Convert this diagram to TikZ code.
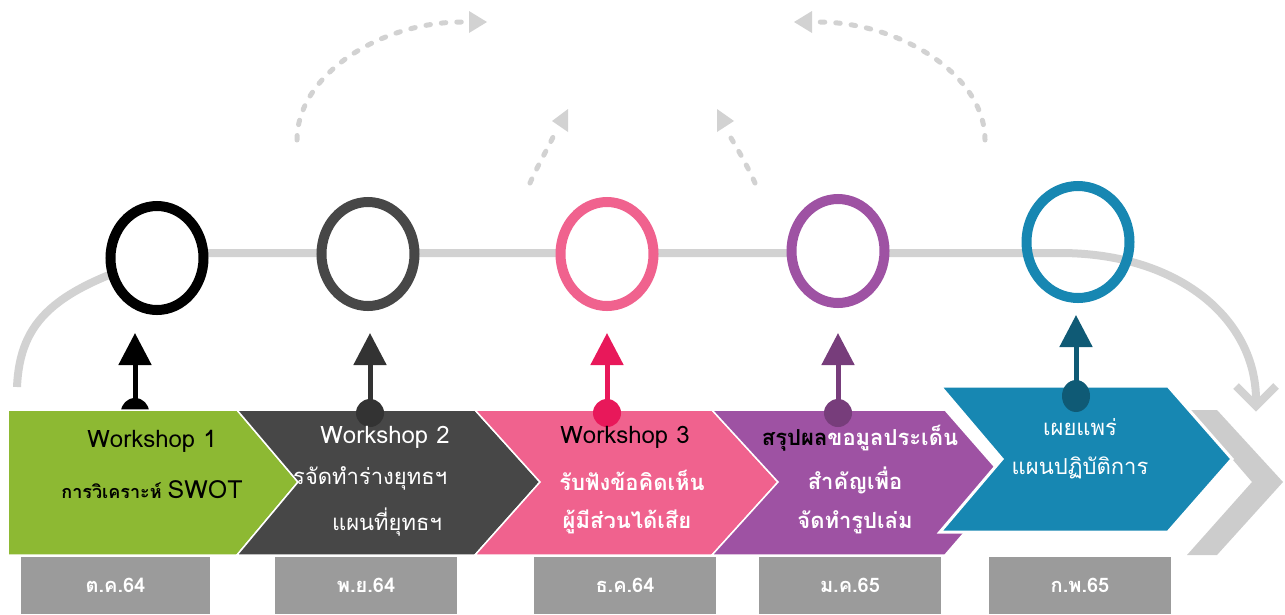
\documentclass[tikz,border=0pt]{standalone}
\usepackage{fontspec}
\setmainfont[Script=Thai]{Loma}
\usetikzlibrary{arrows.meta,shapes.geometric}
\definecolor{stepgreen}{HTML}{8DB933}
\definecolor{stepdark}{HTML}{474747}
\definecolor{steppink}{HTML}{F0628E}
\definecolor{steppurple}{HTML}{9E52A3}
\definecolor{stepblue}{HTML}{1787B2}
\definecolor{pathgray}{HTML}{D2D2D2}
\definecolor{endgray}{HTML}{CCCCCC}
\definecolor{monthgray}{HTML}{9B9B9B}
\definecolor{tipdark}{HTML}{333333}
\definecolor{tippink}{HTML}{E8185A}
\definecolor{tippurple}{HTML}{773D7B}
\definecolor{tipblue}{HTML}{0F5A75}
\newcommand\wsfont{\fontsize{24}{26}\selectfont}
\newcommand\thfont{\fontsize{22}{24}\selectfont}
\tikzset{
	ring/.style={ellipse, draw, line width=10pt, inner sep=0pt, minimum width=93pt, minimum height=104pt},
	pin/.style={circle, inner sep=0pt, minimum size=28pt},
	stem/.style={line width=5pt, -{Triangle[length=32pt,width=32pt]}},
	chev/.style={draw=white, line width=1.5pt},
	hint/.style={draw=pathgray, line width=5pt, line cap=round, dash pattern=on 4.5pt off 11pt},
	txtw/.style={text=white, inner sep=0pt},
	txtb/.style={text=black, inner sep=0pt},
	month/.style={fill=monthgray, text=white, inner sep=0pt, minimum width=182pt, minimum height=57pt, font=\bfseries\fontsize{20}{22}\selectfont}
}

\begin{document}
\begin{tikzpicture}[x=1pt,y=-1pt]
	%%%%% START %%%%%
	\useasboundingbox (0,0) rectangle (1285,614);
	
	% long gray path
	\draw[pathgray, line width=8pt] (17,387) .. controls (20,320) and (55,290) .. (157,258) -- (157,253) -- (1060,253) .. controls (1180,253) and (1256,320) .. (1256,400);
	\draw[pathgray, line width=8pt, line join=miter] (1236,386) -- (1256,406) -- (1276,386);
	
	% dashed arcs on top
	\draw[hint] (297,140) .. controls (297,75) and (380,22) .. (462,22);
	\fill[pathgray] (469,11) -- (487,22) -- (469,33) -- cycle;
	\draw[hint] (530,183) .. controls (538,165) and (548,148) .. (555,133);
	\fill[pathgray] (552,121) -- (568,109) -- (568,132) -- cycle;
	\draw[hint] (755,183) .. controls (747,165) and (737,148) .. (728,133);
	\fill[pathgray] (717,109) -- (734,121) -- (717,132) -- cycle;
	\draw[hint] (985,140) .. controls (985,75) and (900,22) .. (818,22);
	\fill[pathgray] (812,11) -- (794,22) -- (812,33) -- cycle;
	
	% rings
	\node[ring, draw=black, fill=white] (r1) at (157,258) {};
	\node[ring, draw=stepdark, fill=white] (r2) at (368,254) {};
	\node[ring, draw=steppink, fill=white] (r3) at (607,254) {};
	\node[ring, draw=steppurple, fill=white] (r4) at (838,251) {};
	\node[ring, draw=stepblue, minimum width=103pt, minimum height=112pt] (r5) at (1078,242) {};
	
	% first pin sits under the green step
	\node[pin, fill=black] (d1) at (135,412) {};
	\coordinate (t1) at (135,333);
	\draw[stem, black] (d1.center) -- (t1);
	
	% steps
	\path[chev, fill=stepgreen] (8,410) -- (237,410) -- (298,482) -- (237,555) -- (8,555) -- cycle;
	\path[chev, fill=stepdark] (237,410) -- (475,410) -- (540,482) -- (475,555) -- (237,555) -- (298,482) -- cycle;
	\path[chev, fill=steppink] (475,410) -- (712,410) -- (778,482) -- (712,555) -- (475,555) -- (540,482) -- cycle;
	\path[chev, fill=steppurple] (712,410) -- (945,410) -- (1008,482) -- (945,555) -- (712,555) -- (778,482) -- cycle;
	\fill[endgray] (1190,410) -- (1217,410) -- (1283,482) -- (1217,555) -- (1187,555) -- (1252,482) -- cycle;
	\path[chev, fill=stepblue, line width=3pt] (940,386) -- (1168,386) -- (1232,459) -- (1168,532) -- (940,532) -- (1002,459) -- cycle;
	
	% pins
	\node[pin, fill=tipdark] (d2) at (370,413) {};
	\coordinate (t2) at (370,333);
	\draw[stem, tipdark] (d2.center) -- (t2);
	
	\node[pin, fill=tippink] (d3) at (607,413) {};
	\coordinate (t3) at (607,333);
	\draw[stem, tippink] (d3.center) -- (t3);
	
	\node[pin, fill=tippurple] (d4) at (838,413) {};
	\coordinate (t4) at (838,333);
	\draw[stem, tippurple] (d4.center) -- (t4);
	
	\node[pin, ellipse, fill=tipblue, minimum width=28pt, minimum height=32pt] (d5) at (1076,396) {};
	\coordinate (t5) at (1076,315);
	\draw[stem, tipblue] (d5.center) -- (t5);
	
	% texts
	\node[txtb, font=\wsfont] (w1) at (152,441) {Workshop 1};
	\node[txtb] (s1) at (152,490) {{\bfseries\fontsize{18}{20}\selectfont การวิเคราะห์}\hspace{6pt}{\fontsize{25}{27}\selectfont SWOT}};
	
	\node[txtw, font=\wsfont] (w2) at (385,437) {Workshop 2};
	\node[txtw, font=\thfont, anchor=west] (s2a) at (293,478) {รจัดทำร่างยุทธฯ};
	\node[txtw, font=\thfont] (s2b) at (387,522) {แผนที่ยุทธฯ};
	
	\node[txtb, font=\wsfont] (w3) at (625,437) {Workshop 3};
	\node[txtw, font=\thfont\bfseries] (s3a) at (632,480) {รับฟังข้อคิดเห็น};
	\node[txtw, font=\thfont\bfseries] (s3b) at (627,522) {ผู้มีส่วนได้เสีย};
	
	\node[txtw, font=\thfont\bfseries] (s4a) at (860,438) {{\color{black}สรุปผล}ขอมูลประเด็น};
	\node[txtw, font=\thfont\bfseries] (s4b) at (855,480) {สำคัญเพื่อ};
	\node[txtw, font=\thfont\bfseries] (s4c) at (855,522) {จัดทำรูปเล่ม};
	
	\node[txtw, font=\thfont] (s5a) at (1080,427) {เผยแพร่};
	\node[txtw, font=\thfont] (s5b) at (1080,468) {แผนปฏิบัติการ};
	
	% months
	\node[month, minimum width=189pt] (m1) at (115.5,585.5) {ต.ค.64};
	\node[month] (m2) at (366,585.5) {พ.ย.64};
	\node[month] (m3) at (625,585.5) {ธ.ค.64};
	\node[month] (m4) at (850,585.5) {ม.ค.65};
	\node[month] (m5) at (1080,585.5) {ก.พ.65};
	
	%%%%% END %%%%%
\end{tikzpicture}
\end{document}
